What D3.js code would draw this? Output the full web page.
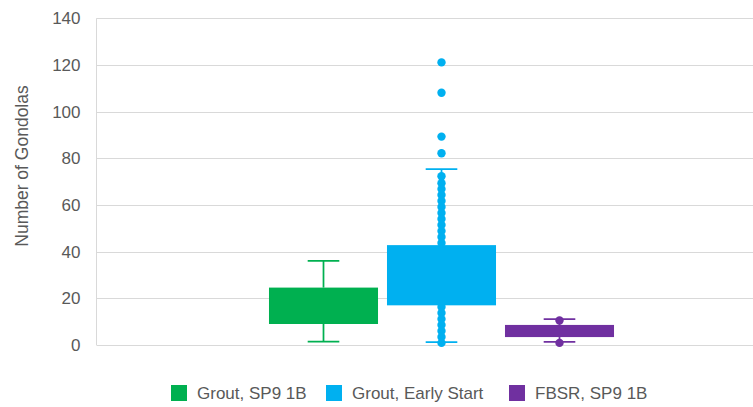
<!DOCTYPE html>
<html><head><meta charset="utf-8">
<script src="https://cdn.jsdelivr.net/npm/d3@7"></script>
<style>body{margin:0;background:#fff}svg{display:block}text{font-family:"Liberation Sans",Arial,sans-serif;fill:#595959}</style>
</head><body><svg id="c" width="753" height="407"></svg>
<script>
const series = ["Grout, SP9 1B", "Grout, Early Start", "FBSR, SP9 1B"];
const colors = ["#00B050", "#00B0F0", "#7030A0"];
const whiskerLow = [1.4, 1.2, 1.3];
const q1 = [9.0, 17.0, 3.4];
const q3 = [24.6, 42.8, 8.6];
const whiskerHigh = [36.1, 75.4, 11.1];
const points = [
  [],
  [121.1, 108.1, 89.3, 82.2, 72.3, 69.3, 66.8, 64.3, 61.7, 59.1, 56.6, 54.0, 51.4, 48.8, 46.3, 43.7,
   16.3, 13.7, 11.1, 8.6, 6.0, 3.4, 0.9],
  [10.5, 0.9]
];
const yTicks = [0, 20, 40, 60, 80, 100, 120, 140];
const yTitle = "Number of Gondolas";

const svg = d3.select("#c");
const L = 96.5, R = 753, T = 18.3, B = 345;
const y = d3.scaleLinear().domain([0, 140]).range([B, T]);
const x = d3.scaleBand().domain(series).range([264.5, 618.5]).paddingInner(0.076).paddingOuter(0.038);

// gridlines
svg.append("g").selectAll("line").data(yTicks.filter(d => d > 0)).join("line")
  .attr("x1", L).attr("x2", R).attr("y1", d => Math.round(y(d)) + 0.5).attr("y2", d => Math.round(y(d)) + 0.5)
  .attr("stroke", "#d9d9d9").attr("stroke-width", 1);
svg.append("line").attr("x1", L).attr("x2", L).attr("y1", T).attr("y2", B).attr("stroke", "#d9d9d9");
svg.append("line").attr("x1", L).attr("x2", R).attr("y1", Math.round(B) + 0.5).attr("y2", Math.round(B) + 0.5).attr("stroke", "#d9d9d9");

// tick labels
const yAxis = d3.axisLeft(y).tickValues(yTicks).tickSize(0).tickPadding(16);
const ga = svg.append("g").attr("transform", `translate(${L},0)`).call(yAxis);
ga.select(".domain").remove();
ga.selectAll("text").style("font-size", "17px").attr("fill", "#595959").style("font-family", '"Liberation Sans",Arial,sans-serif');

// axis title
svg.append("text").attr("transform", `translate(28,166) rotate(-90)`)
  .attr("text-anchor", "middle").style("font-size", "17.5px").text(yTitle);

// boxes
const g = svg.append("g");
series.forEach((s, i) => {
  const x0 = x(s), w = x.bandwidth(), cx = x0 + w / 2, cap = w * 0.29;
  const c = colors[i];
  g.append("line").attr("x1", cx).attr("x2", cx).attr("y1", y(whiskerHigh[i])).attr("y2", y(q3[i])).attr("stroke", c).attr("stroke-width", 1.75);
  g.append("line").attr("x1", cx).attr("x2", cx).attr("y1", y(q1[i])).attr("y2", y(whiskerLow[i])).attr("stroke", c).attr("stroke-width", 1.75);
  [whiskerHigh[i], whiskerLow[i]].forEach(v => {
    g.append("line").attr("x1", cx - cap / 2).attr("x2", cx + cap / 2).attr("y1", y(v)).attr("y2", y(v)).attr("stroke", c).attr("stroke-width", 1.75);
  });
  g.append("rect").attr("x", x0).attr("width", w).attr("y", y(q3[i])).attr("height", y(q1[i]) - y(q3[i])).attr("fill", c);
  g.selectAll(null).data(points[i]).join("circle")
    .attr("cx", cx).attr("cy", d => y(d)).attr("r", 4.2).attr("fill", c);
});

// legend
const legendX = [171, 326, 509];
const lg = svg.append("g");
series.forEach((s, i) => {
  lg.append("rect").attr("x", legendX[i]).attr("y", 385).attr("width", 16).attr("height", 16).attr("fill", colors[i]);
  lg.append("text").attr("x", legendX[i] + 26).attr("y", 399).style("font-size", "17px").text(s);
});
</script></body></html>
